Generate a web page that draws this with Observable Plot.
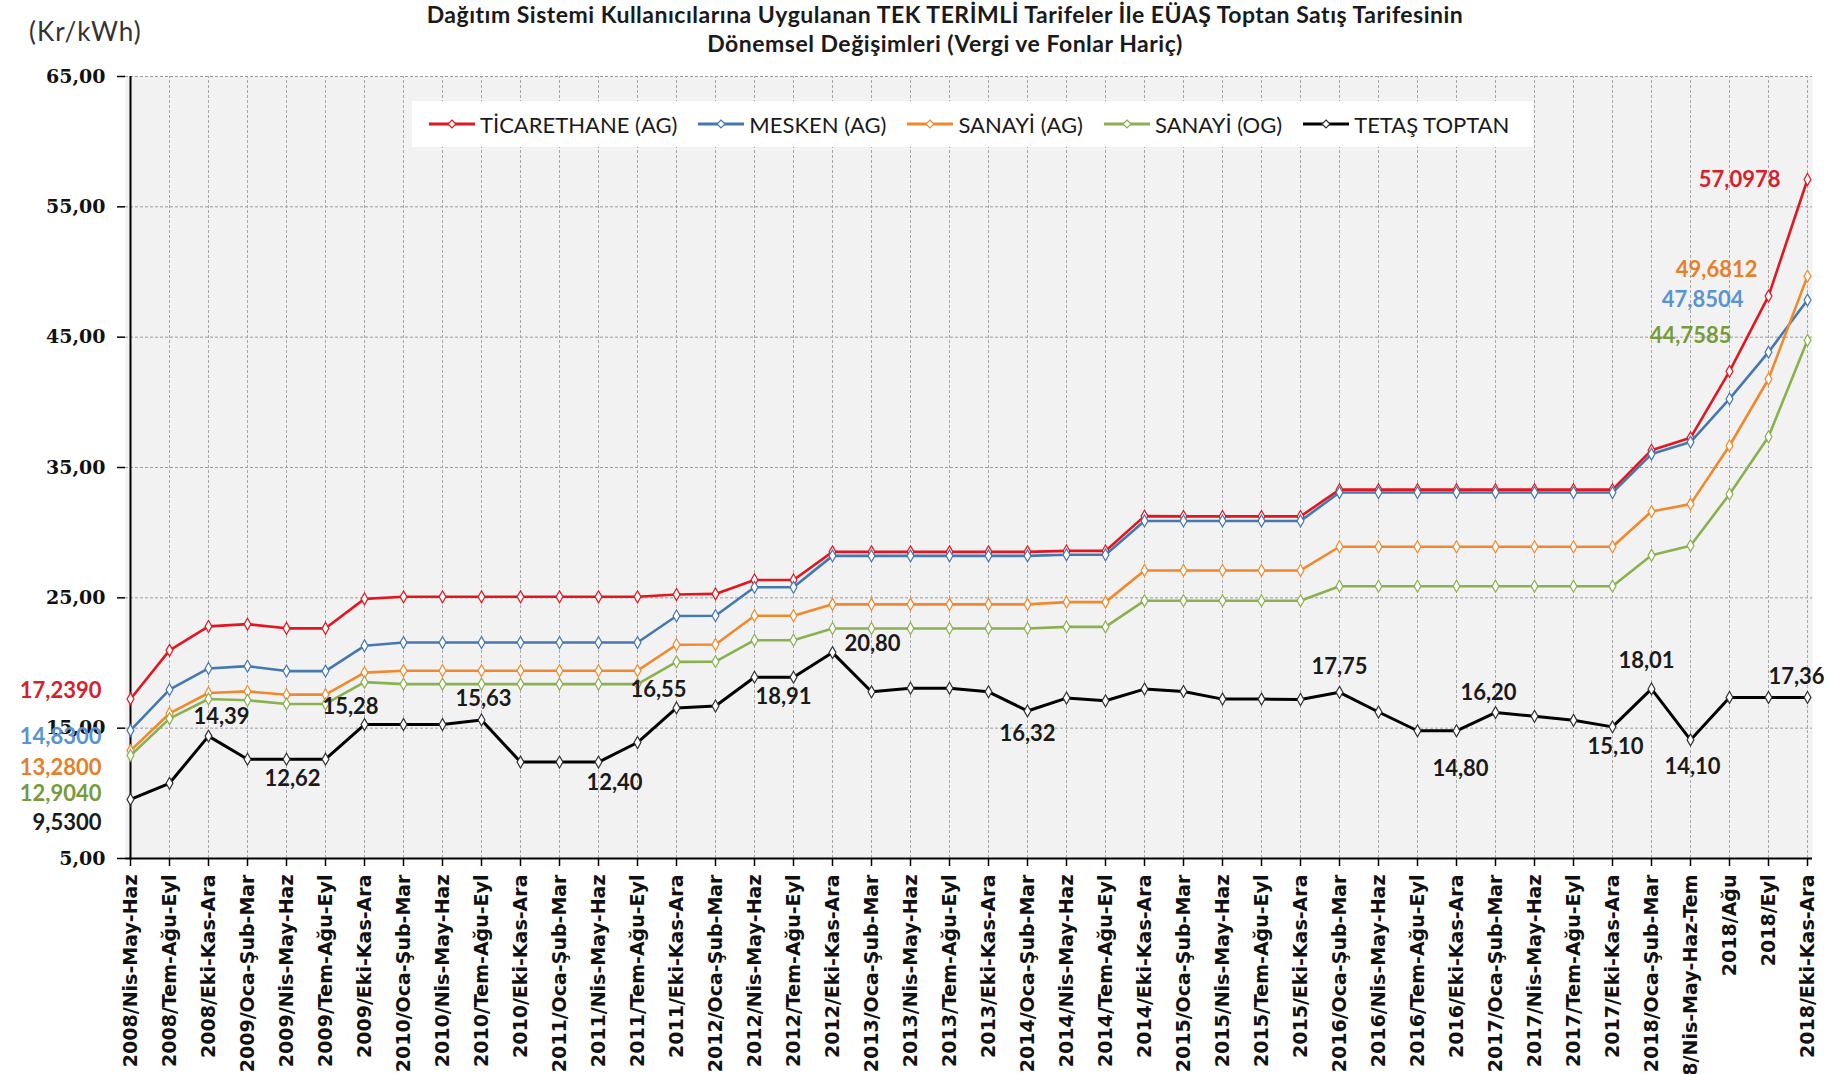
<!DOCTYPE html>
<html><head><meta charset="utf-8">
<script src="https://cdn.jsdelivr.net/npm/d3@7"></script>
<script src="https://cdn.jsdelivr.net/npm/@observablehq/plot@0.6"></script>
<style>
html,body{margin:0;padding:0;background:#fff;overflow:hidden;}
#wrap{position:relative;width:1835px;height:1074px;}
#chart{position:absolute;left:0;top:0;}
#title{position:absolute;left:0;top:0px;width:1890px;text-align:center;font-family:Lato,sans-serif;font-weight:bold;font-size:23px;letter-spacing:0.5px;line-height:29px;color:#1a1a1a;}
#unit{position:absolute;left:29px;top:15px;font-family:Lato,sans-serif;font-size:26px;color:#333;letter-spacing:1px;}
#legend{position:absolute;left:412px;top:101px;width:1121px;height:46px;background:#fff;display:flex;align-items:center;padding-left:17px;box-sizing:border-box;font-family:Lato,sans-serif;font-size:22px;color:#1a1a1a;}
.item{display:flex;align-items:center;margin-right:21px;white-space:nowrap;}
.item svg{margin-right:5px;}
</style></head>
<body>
<div id="wrap">
  <div id="chart"></div>
  <div id="unit">(Kr/kWh)</div>
  <div id="title">Dağıtım Sistemi Kullanıcılarına Uygulanan TEK TERİMLİ Tarifeler İle EÜAŞ Toptan Satış Tarifesinin<br>Dönemsel Değişimleri (Vergi ve Fonlar Hariç)</div>
  <div id="legend"></div>
</div>
<script>
const periods = [
"2008/Nis-May-Haz","2008/Tem-Ağu-Eyl","2008/Eki-Kas-Ara",
"2009/Oca-Şub-Mar","2009/Nis-May-Haz","2009/Tem-Ağu-Eyl","2009/Eki-Kas-Ara",
"2010/Oca-Şub-Mar","2010/Nis-May-Haz","2010/Tem-Ağu-Eyl","2010/Eki-Kas-Ara",
"2011/Oca-Şub-Mar","2011/Nis-May-Haz","2011/Tem-Ağu-Eyl","2011/Eki-Kas-Ara",
"2012/Oca-Şub-Mar","2012/Nis-May-Haz","2012/Tem-Ağu-Eyl","2012/Eki-Kas-Ara",
"2013/Oca-Şub-Mar","2013/Nis-May-Haz","2013/Tem-Ağu-Eyl","2013/Eki-Kas-Ara",
"2014/Oca-Şub-Mar","2014/Nis-May-Haz","2014/Tem-Ağu-Eyl","2014/Eki-Kas-Ara",
"2015/Oca-Şub-Mar","2015/Nis-May-Haz","2015/Tem-Ağu-Eyl","2015/Eki-Kas-Ara",
"2016/Oca-Şub-Mar","2016/Nis-May-Haz","2016/Tem-Ağu-Eyl","2016/Eki-Kas-Ara",
"2017/Oca-Şub-Mar","2017/Nis-May-Haz","2017/Tem-Ağu-Eyl","2017/Eki-Kas-Ara",
"2018/Oca-Şub-Mar","2018/Nis-May-Haz-Tem","2018/Ağu","2018/Eyl","2018/Eki-Kas-Ara"];

const ticaret = [17.239,20.97,22.81,22.98,22.66,22.66,24.92,
 25.08,25.08,25.08,25.08,25.08,25.08,25.08,
 25.25,25.30,26.37,26.37,
 28.53,28.53,28.53,28.53,28.53,28.53,
 28.60,28.60,
 31.27,31.25,31.25,31.25,31.25,
 33.30,33.30,33.30,33.30,33.30,33.30,33.30,33.30,
 36.33,37.28,42.38,48.15,57.0978];

const mesken = [14.83,17.95,19.58,19.76,19.38,19.38,21.32,
 21.57,21.57,21.57,21.57,21.57,21.57,21.57,
 23.61,23.63,25.81,25.81,
 28.22,28.22,28.22,28.22,28.22,28.22,
 28.30,28.30,
 30.90,30.90,30.90,30.90,30.90,
 33.08,33.08,33.08,33.08,33.08,33.08,33.08,33.08,
 36.03,36.95,40.26,43.85,47.8504];

const sanayiAG = [13.28,16.13,17.70,17.82,17.57,17.57,19.26,
 19.41,19.41,19.41,19.41,19.41,19.41,19.41,
 21.40,21.42,23.63,23.63,
 24.50,24.50,24.50,24.50,24.50,24.50,
 24.67,24.67,
 27.10,27.10,27.10,27.10,27.10,
 28.92,28.92,28.92,28.92,28.92,28.92,28.92,28.92,
 31.62,32.19,36.67,41.79,49.6812];

const sanayiOG = [12.904,15.73,17.24,17.14,16.86,16.86,18.53,
 18.38,18.38,18.38,18.38,18.38,18.38,18.38,
 20.09,20.10,21.75,21.75,
 22.65,22.65,22.65,22.65,22.65,22.65,
 22.77,22.77,
 24.78,24.78,24.78,24.78,24.78,
 25.89,25.89,25.89,25.89,25.89,25.89,25.89,25.89,
 28.26,29.00,32.95,37.36,44.7585];

const tetas = [9.53,10.77,14.39,12.62,12.62,12.62,15.28,
 15.28,15.28,15.63,12.40,12.40,12.40,13.90,
 16.55,16.70,18.91,18.91,
 20.80,17.79,18.07,18.07,17.79,16.32,
 17.31,17.10,
 18.00,17.82,17.23,17.23,17.20,
 17.75,16.24,14.80,14.80,16.20,15.91,15.60,15.10,
 18.01,14.10,17.36,17.36,17.36];

const seriesNames = ["TİCARETHANE (AG)","MESKEN (AG)","SANAYİ (AG)","SANAYİ (OG)","TETAŞ TOPTAN"];
const yTicks = [5,15,25,35,45,55,65];
const tetasLabelIdx = [2,4,6,9,12,14,17,18,23,31,34,35,38,39,40,43];

// ---- styling / placement (not data) ----
const lineColors = ["#e3161f","#4577b0","#f0892c","#8bb04f","#000000"];
const textColors = ["#d7202a","#5a93d2","#e5802a","#789a3c","#1a1a1a"];
const seriesValues = [ticaret, mesken, sanayiAG, sanayiOG, tetas];
const tetasOffsets = {2:[13,-19],4:[6,20],6:[-14,-18],9:[2,-21],12:[16,21],14:[-18,-18],
  17:[-10,20],18:[40,-9],23:[0,23],31:[0,-25],34:[4,38],35:[-7,-20],38:[3,20],
  39:[-5,-28],40:[2,27],43:[-11,-20]};
const startDy = [-8,7,17,38,23];
const endOffsets = [[-27,0],[-64,0],[-50,-6],[-76,-4]];

const fmt = (v, d) => v.toFixed(d).replace(".", ",");
const lblFont = {fontFamily:"Lato, sans-serif", fontWeight:"bold", fontSize:22};

const marks = [
  Plot.frame({fill:"#f2f2f2", stroke:null}),
  Plot.ruleY(yTicks.slice(1), {stroke:"#9c9c9c", strokeWidth:1, strokeDasharray:"3,2"}),
  Plot.ruleX(periods.slice(1), {y1:5, y2:65, stroke:"#a8a8a8", strokeWidth:1, strokeDasharray:"3,2"}),
  Plot.axisX({label:null, tickRotate:-90, tickSize:8, tickPadding:8, fontFamily:"DejaVu Sans, sans-serif",
    fontWeight:"bold", fontSize:19, stroke:"#000", strokeWidth:1.5}),
  Plot.axisY({label:null, ticks:yTicks, tickFormat:d => fmt(d,2), tickSize:8, tickPadding:12,
    fontFamily:"DejaVu Serif, serif", fontWeight:"bold", fontSize:19, stroke:"#000", strokeWidth:1.5}),
  Plot.ruleY([5], {stroke:"#000", strokeWidth:2}),
  Plot.ruleX([periods[0]], {y1:5, y2:65, stroke:"#000", strokeWidth:2})
];

seriesValues.forEach((vals, s) => {
  const rows = vals.map((v, i) => ({period: periods[i], value: v}));
  marks.push(Plot.line(rows, {x:"period", y:"value", stroke: lineColors[s], strokeWidth: s === 4 ? 3 : 2.6,
    strokeLinejoin:"round"}));
  marks.push(Plot.dot(rows, {x:"period", y:"value", symbol:"diamond", r:3.6, fill:"#fff",
    stroke: s === 4 ? "#333" : lineColors[s], strokeWidth:1.2}));
});

// TETAŞ value labels
tetasLabelIdx.forEach(i => {
  const [dx, dy] = tetasOffsets[i];
  marks.push(Plot.text([{period: periods[i], value: tetas[i]}], {x:"period", y:"value",
    text: d => fmt(d.value, 2), dx, dy, fill:"#1a1a1a", ...lblFont}));
});

// start labels (left of axis)
seriesValues.forEach((vals, s) => {
  marks.push(Plot.text([{period: periods[0], value: vals[0]}], {x:"period", y:"value",
    text: d => fmt(d.value, 4), dx:-29, dy:startDy[s], textAnchor:"end", fill:textColors[s], ...lblFont}));
});

// end labels
seriesValues.slice(0,4).forEach((vals, s) => {
  const last = vals.length - 1;
  const [dx, dy] = endOffsets[s];
  marks.push(Plot.text([{period: periods[last], value: vals[last]}], {x:"period", y:"value",
    text: d => fmt(d.value, 4), dx, dy, textAnchor:"end", fill:textColors[s], ...lblFont}));
});

const chart = Plot.plot({
  width: 1835, height: 1074,
  marginLeft: 125, marginRight: 23, marginTop: 76, marginBottom: 216,
  style: {background:"transparent", overflow:"visible", color:"#111"},
  x: {type:"point", domain: periods, padding: 0, label: null},
  y: {domain:[5,65], label: null},
  marks
});
document.getElementById("chart").appendChild(chart);

// legend
const legend = document.getElementById("legend");
seriesNames.forEach((name, s) => {
  const item = document.createElement("div");
  item.className = "item";
  const c = lineColors[s];
  item.innerHTML = `<svg width="46" height="14"><line x1="0" x2="46" y1="7" y2="7" stroke="${c}" stroke-width="3"/>` +
    `<path d="M23,3 L27,7 L23,11 L19,7 Z" fill="#fff" stroke="${s===4?'#333':c}" stroke-width="1.2"/></svg><span>${name}</span>`;
  legend.appendChild(item);
});
</script>
</body></html>
